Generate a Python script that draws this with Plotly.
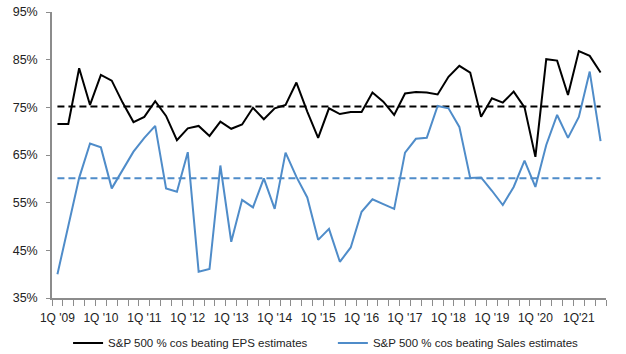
import plotly.graph_objects as go

quarters = [f"{q}Q '{y:02d}" for y in range(9, 22) for q in range(1, 5)][:51]
tick_labels = ["1Q '09", "1Q '10", "1Q '11", "1Q '12", "1Q '13", "1Q '14", "1Q '15",
               "1Q '16", "1Q '17", "1Q '18", "1Q '19", "1Q '20", "1Q'21"]
y_ticks = [35, 45, 55, 65, 75, 85, 95]

eps = [71.5, 71.5, 83.2, 75.5, 81.8, 80.6, 76.0, 71.9, 73.0, 76.3, 73.2, 68.1, 70.6,
       71.1, 69.0, 72.0, 70.5, 71.4, 74.9, 72.5, 74.8, 75.5, 80.2, 74.1, 68.6, 74.8,
       73.6, 74.0, 74.0, 78.1, 76.2, 73.4, 77.9, 78.2, 78.1, 77.7, 81.4, 83.7, 82.3,
       73.0, 76.9, 76.0, 78.3, 75.0, 64.6, 85.1, 84.8, 77.6, 86.8, 85.8, 82.3]
sales = [40.0, 50.3, 60.2, 67.4, 66.6, 58.0, 61.8, 65.7, 68.6, 71.1, 58.0, 57.3, 65.6,
         40.5, 41.1, 62.8, 46.8, 55.6, 54.0, 60.1, 53.7, 65.5, 60.4, 56.1, 47.2, 49.5,
         42.6, 45.6, 53.1, 55.7, 54.7, 53.7, 65.5, 68.4, 68.6, 75.3, 74.8, 70.9, 60.2,
         60.3, 57.5, 54.5, 58.3, 63.8, 58.3, 67.1, 73.4, 68.6, 73.0, 82.5, 67.9]
eps_avg = 75.2
sales_avg = 60.1

BLUE = "#4F8CC9"
FONT = "Liberation Sans, Arial"

xs = list(range(len(quarters)))

fig = go.Figure()
fig.add_trace(go.Scatter(x=xs, y=[eps_avg] * len(xs), mode="lines",
                         line=dict(color="black", width=2, dash="7px,4px"),
                         showlegend=False, hoverinfo="skip"))
fig.add_trace(go.Scatter(x=xs, y=[sales_avg] * len(xs), mode="lines",
                         line=dict(color=BLUE, width=2, dash="7px,4px"),
                         showlegend=False, hoverinfo="skip"))
fig.add_trace(go.Scatter(x=xs, y=eps, mode="lines", text=quarters,
                         line=dict(color="black", width=2),
                         name="S&P 500 % cos beating EPS estimates", legend="legend"))
fig.add_trace(go.Scatter(x=xs, y=sales, mode="lines", text=quarters,
                         line=dict(color=BLUE, width=2),
                         name="S&P 500 % cos beating Sales estimates", legend="legend2"))

tickvals_x = [quarters.index(t.replace("Q'", "Q '")) for t in tick_labels]

fig.update_layout(
    width=626, height=354,
    margin=dict(l=52, r=20, t=12, b=56, autoexpand=False),
    plot_bgcolor="white", paper_bgcolor="white",
    font=dict(family=FONT, size=12, color="#222"),
    xaxis=dict(range=[-0.5, 50.5], tickvals=tickvals_x, ticktext=tick_labels,
               ticks="outside", ticklen=8, tickcolor="rgba(0,0,0,0)",
               showline=True, linecolor="#8c8c8c", linewidth=1.5,
               showgrid=False, zeroline=False, automargin=False,
               tickfont=dict(size=12),
               minor=dict(tick0=-0.5, dtick=1, ticks="outside", ticklen=6,
                          tickcolor="#8c8c8c", showgrid=False)),
    yaxis=dict(range=[35, 95], tickvals=y_ticks,
               ticktext=[f"{v}%" for v in y_ticks],
               ticks="outside", ticklen=4, tickcolor="#8c8c8c",
               showline=True, linecolor="#8c8c8c", linewidth=1.5,
               showgrid=False, zeroline=False, automargin=False,
               tickfont=dict(size=12.5), ticklabelstandoff=6),
    legend=dict(x=0.029, y=-0.157, xanchor="left", yanchor="middle",
                orientation="h", font=dict(size=11.5), bgcolor="rgba(0,0,0,0)"),
    legend2=dict(x=0.507, y=-0.157, xanchor="left", yanchor="middle",
                 orientation="h", font=dict(size=11.5), bgcolor="rgba(0,0,0,0)"),
)

fig.write_html("out.html")
